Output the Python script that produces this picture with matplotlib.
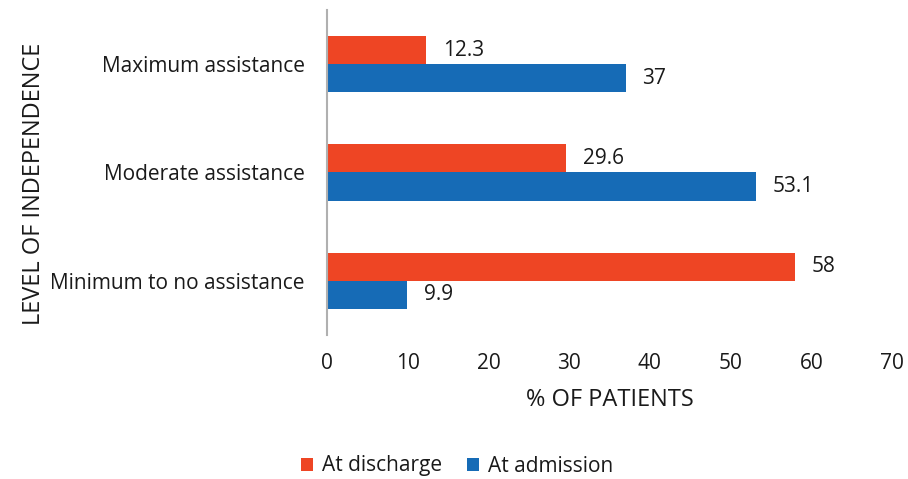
import matplotlib
matplotlib.use("Agg")
import matplotlib.pyplot as plt
import numpy as np

plt.rcParams['font.family'] = ['Open Sans', 'DejaVu Sans']

categories = ["Minimum to no assistance", "Moderate assistance", "Maximum assistance"]
discharge = [58, 29.6, 12.3]
admission = [9.9, 53.1, 37]
discharge_labels = ["58", "29.6", "12.3"]
admission_labels = ["9.9", "53.1", "37"]
xticks = [0, 10, 20, 30, 40, 50, 60, 70]

red = "#EE4524"
blue = "#166BB6"
text_color = "#1a1a1a"

fig = plt.figure(figsize=(9.08, 4.79), dpi=100)
ax = fig.add_axes([327/908, 1 - 335/479, (892-327)/908, (335-10)/479])

y = np.arange(len(categories))
h = 0.26
ax.barh(y + h/2, discharge, height=h, color=red, label="At discharge")
ax.barh(y - h/2, admission, height=h, color=blue, label="At admission")

fs = 15
for yi, v, lab in zip(y, discharge, discharge_labels):
    ax.annotate(lab, (v, yi + h/2), xytext=(12, 0), textcoords="offset points",
                va="center", ha="left", fontsize=fs, color=text_color)
for yi, v, lab in zip(y, admission, admission_labels):
    ax.annotate(lab, (v, yi - h/2), xytext=(12, 0), textcoords="offset points",
                va="center", ha="left", fontsize=fs, color=text_color)

ax.set_xlim(0, 70)
ax.set_ylim(-0.5, 2.5)
ax.set_xticks(xticks)
ax.set_xticklabels([str(t) for t in xticks], fontsize=fs, color=text_color)
ax.set_yticks(y)
ax.set_yticklabels(categories, fontsize=fs, color=text_color)
ax.tick_params(axis='both', length=0)
ax.tick_params(axis='x', pad=13)
ax.tick_params(axis='y', pad=16)
for s in ["top", "right", "bottom"]:
    ax.spines[s].set_visible(False)
ax.spines["left"].set_color("#b0b0b0")
ax.spines["left"].set_linewidth(1.5)

ax.set_xlabel("% OF PATIENTS", fontsize=17, color=text_color, labelpad=10)
fig.text(34/908, 1 - 184/479, "LEVEL OF INDEPENDENCE", rotation=90, ha="center", va="center",
         fontsize=17, color=text_color)

fig.legend(loc="center", bbox_to_anchor=(457/908, 1 - 466/479), ncol=2, frameon=False,
           fontsize=fs, handlelength=0.6, handleheight=0.6, handletextpad=0.4,
           columnspacing=1.2, labelcolor=text_color)

fig.savefig("out.png", dpi=100)
